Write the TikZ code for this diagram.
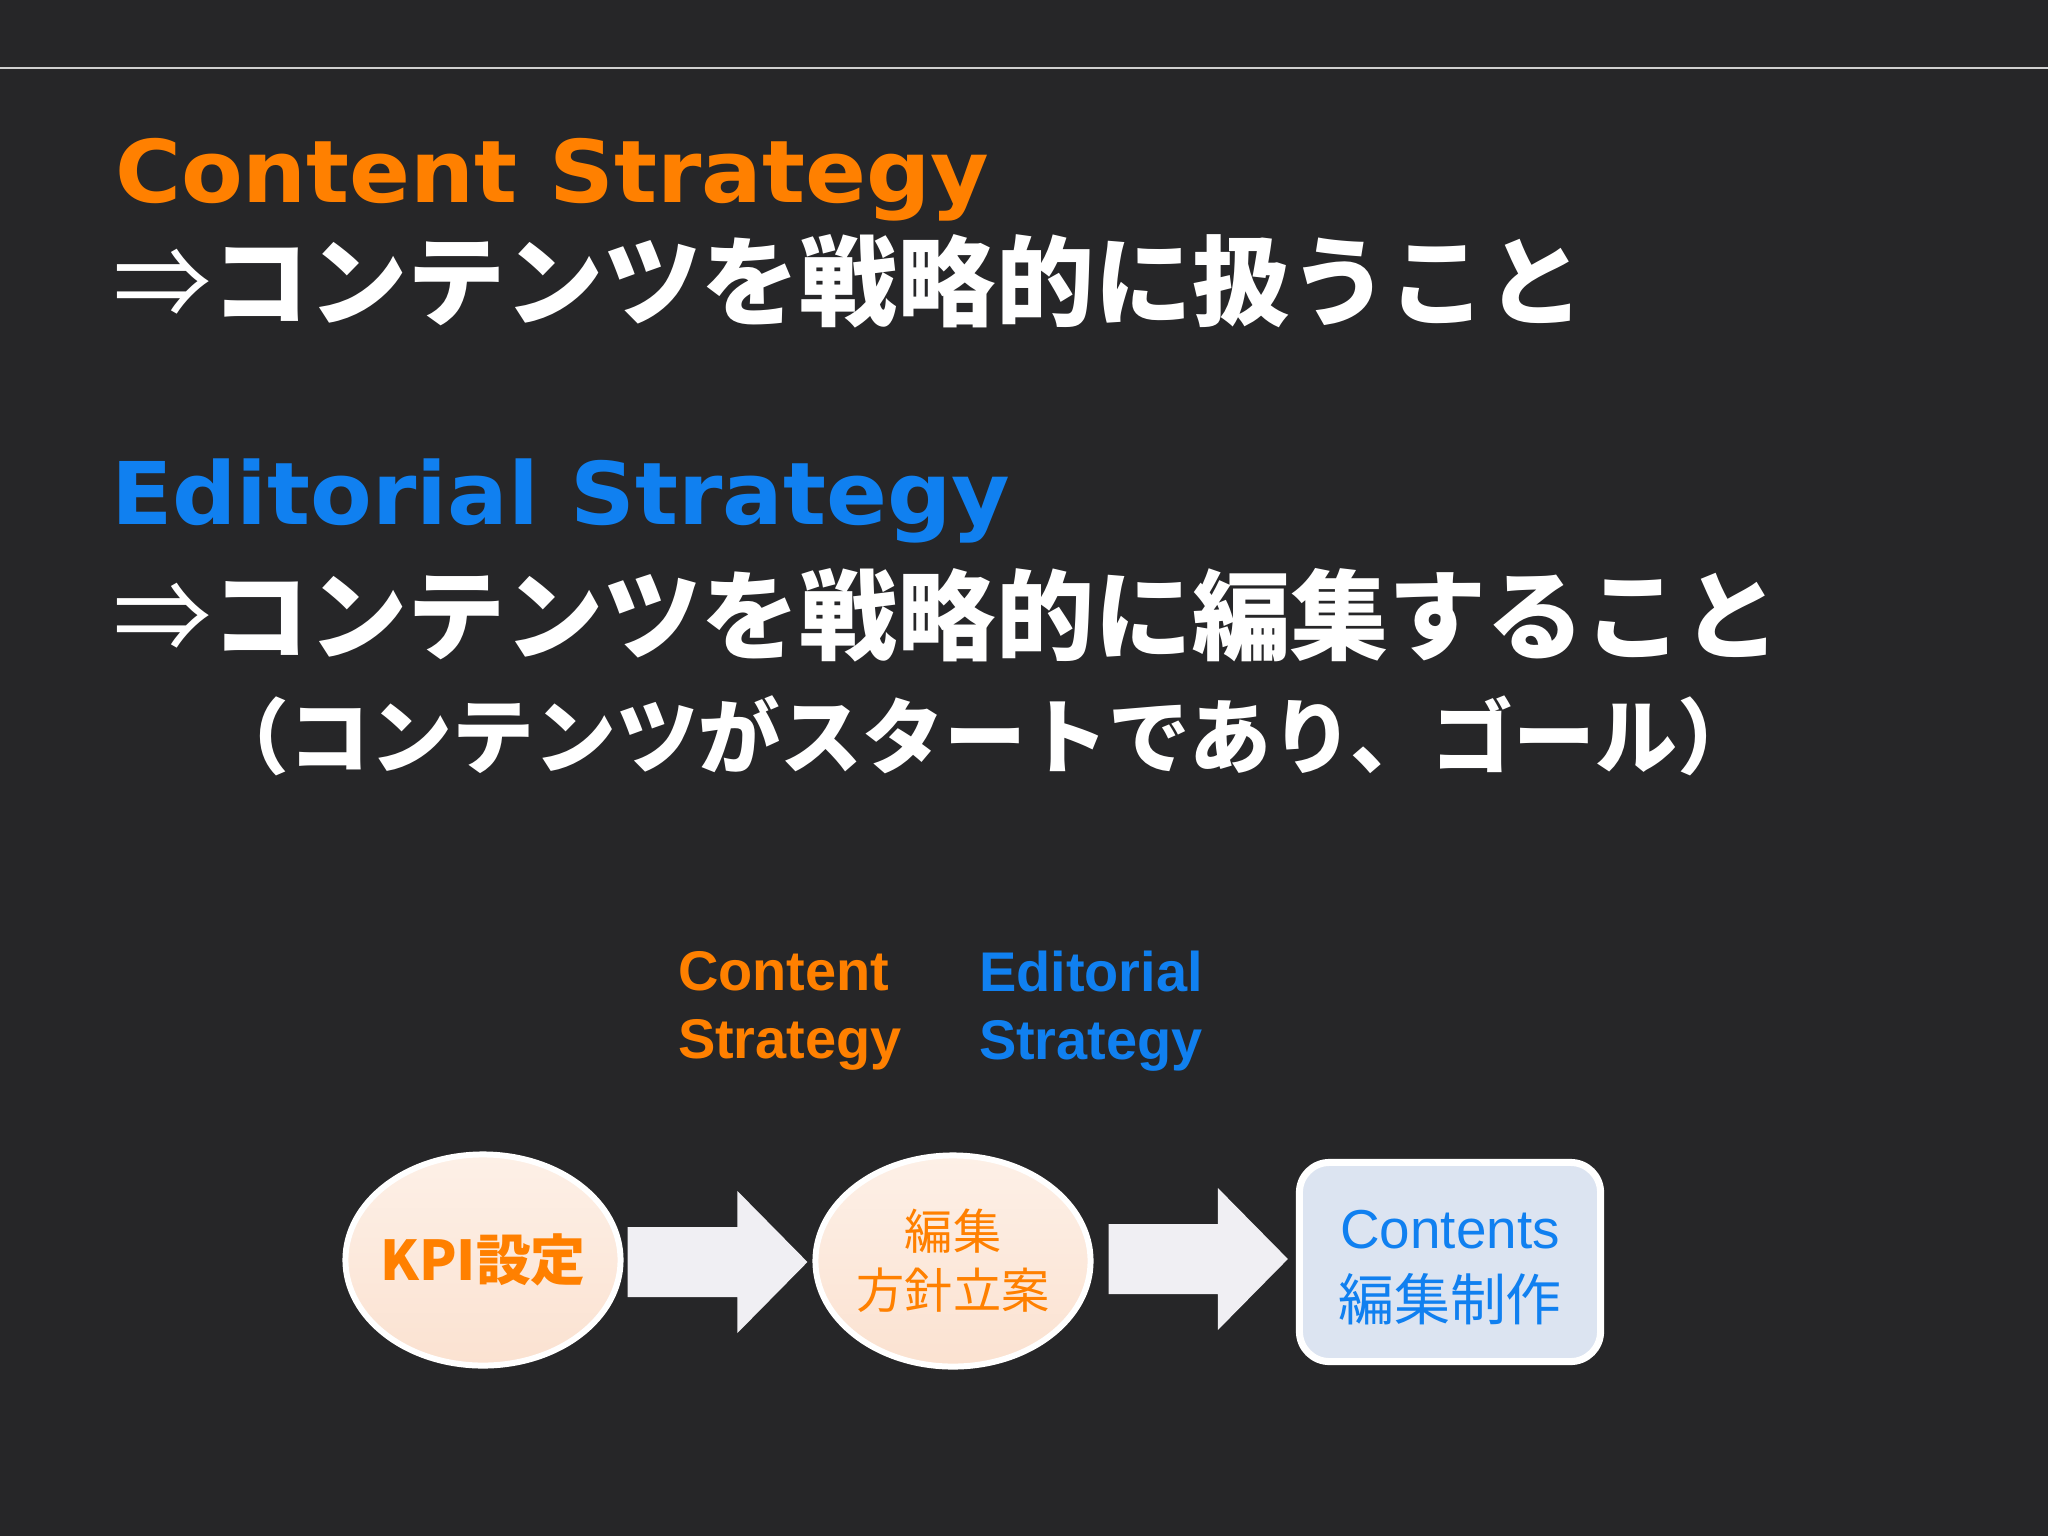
\documentclass[tikz,border=0pt]{standalone}
\usepackage{fontspec}
\usetikzlibrary{shapes.geometric,calc}
\newfontfamily\ttlfont{DejaVu Sans}[FakeStretch=1.04]
\newfontfamily\jp{Noto Sans CJK JP}
\newfontfamily\arial{Liberation Sans}
\definecolor{bg}{HTML}{262628}
\definecolor{orng}{HTML}{FF8000}
\definecolor{blu}{HTML}{1080F0}
\definecolor{peachtop}{HTML}{FDF0E7}
\definecolor{peachbot}{HTML}{FBE2D1}
\definecolor{boxblue}{HTML}{DCE4F1}
\definecolor{arrowgray}{HTML}{F0EFF3}
\definecolor{rule}{HTML}{D0D0D0}
\tikzset{
  txt/.style={inner sep=0pt, outer sep=0pt},
  titleL/.style={txt, anchor=base west, font=\ttlfont\bfseries\fontsize{24.6pt}{28pt}\selectfont},
  titleJ/.style={txt, anchor=base west, text=white, font=\jp\bfseries\fontsize{27.9pt}{30pt}\selectfont},
  subJ/.style={txt, anchor=base west, text=white, font=\jp\bfseries\fontsize{23.3pt}{26pt}\selectfont},
  lbl/.style={txt, anchor=north west, align=left, font=\arial\bfseries\fontsize{15.9pt}{19.35pt}\selectfont},
  oval/.style={ellipse, draw=white, line width=1.7pt, top color=peachtop, bottom color=peachbot,
    minimum width=2.75cm, minimum height=2.11cm, inner xsep=-1cm, inner ysep=-0.3cm, text=orng},
  boxnode/.style={rectangle, rounded corners=0.3cm, draw=white, line width=2pt, fill=boxblue,
    minimum width=3.01cm, minimum height=1.99cm, inner sep=0pt, text=blu, align=center},
  arrowfill/.style={fill=arrowgray}
}
\newcommand\blockarr[2]{\fill[arrowfill] ($(#1)+(0,-35)$) -- ($(#2)+(-70,-35)$) -- ($(#2)+(-70,-71)$) -- (#2) -- ($(#2)+(-70,71)$) -- ($(#2)+(-70,35)$) -- ($(#1)+(0,35)$) -- cycle;}
\begin{document}
\begin{tikzpicture}[x=0.01cm, y=-0.01cm]
\fill[bg] (0,0) rectangle (2048,1536);
\useasboundingbox (0,0) rectangle (2048,1536);
\draw[rule, line width=0.6pt] (0,68) -- (2048,68);

\node[titleL, text=orng] (t1) at (115,202) {Content Strategy};
\node[titleJ] (j1) at (113,318) {{\mdseries ⇒}コンテンツを戦略的に扱うこと};
\node[titleL, text=blu] (t2) at (111,524) {Editorial Strategy};
\node[titleJ] (j2) at (113,652) {{\mdseries ⇒}コンテンツを戦略的に編集すること};
\node[subJ] (j3) at (207,767) {（コンテンツがスタートであり、ゴール）};

\node[lbl, text=orng] (lc) at (678,951) {Content\\Strategy};
\node[lbl, text=blu] (le) at (979,951) {Editorial\\Strategy};

\node[oval, font=\jp\bfseries\fontsize{15.6pt}{18pt}\selectfont] (e1) at (483,1260) {KPI設定};
\node[oval, align=center, font=\jp\fontsize{13.7pt}{16.8pt}\selectfont] (e2) at (953,1261) {編集\\方針立案};
\node[boxnode, font=\fontsize{15.6pt}{20.5pt}\selectfont] (r1) at (1450,1262) {};
\node[txt, align=center, text=blu, font=\fontsize{15.6pt}{20.5pt}\selectfont] (r1t) at (1450,1268) {{\arial\fontsize{15.6pt}{20.5pt}\selectfont Contents}\\{\jp\fontsize{15.9pt}{20.5pt}\selectfont 編集制作}};

\coordinate (a1s) at ($(e1.east)+(4,2)$);
\coordinate (a1t) at ($(e2.west)+(-5,1)$);
\blockarr{a1s}{a1t}
\coordinate (a2s) at ($(e2.east)+(15,-2)$);
\coordinate (a2t) at ($(r1.west)+(-8,-3)$);
\blockarr{a2s}{a2t}
\end{tikzpicture}
\end{document}
